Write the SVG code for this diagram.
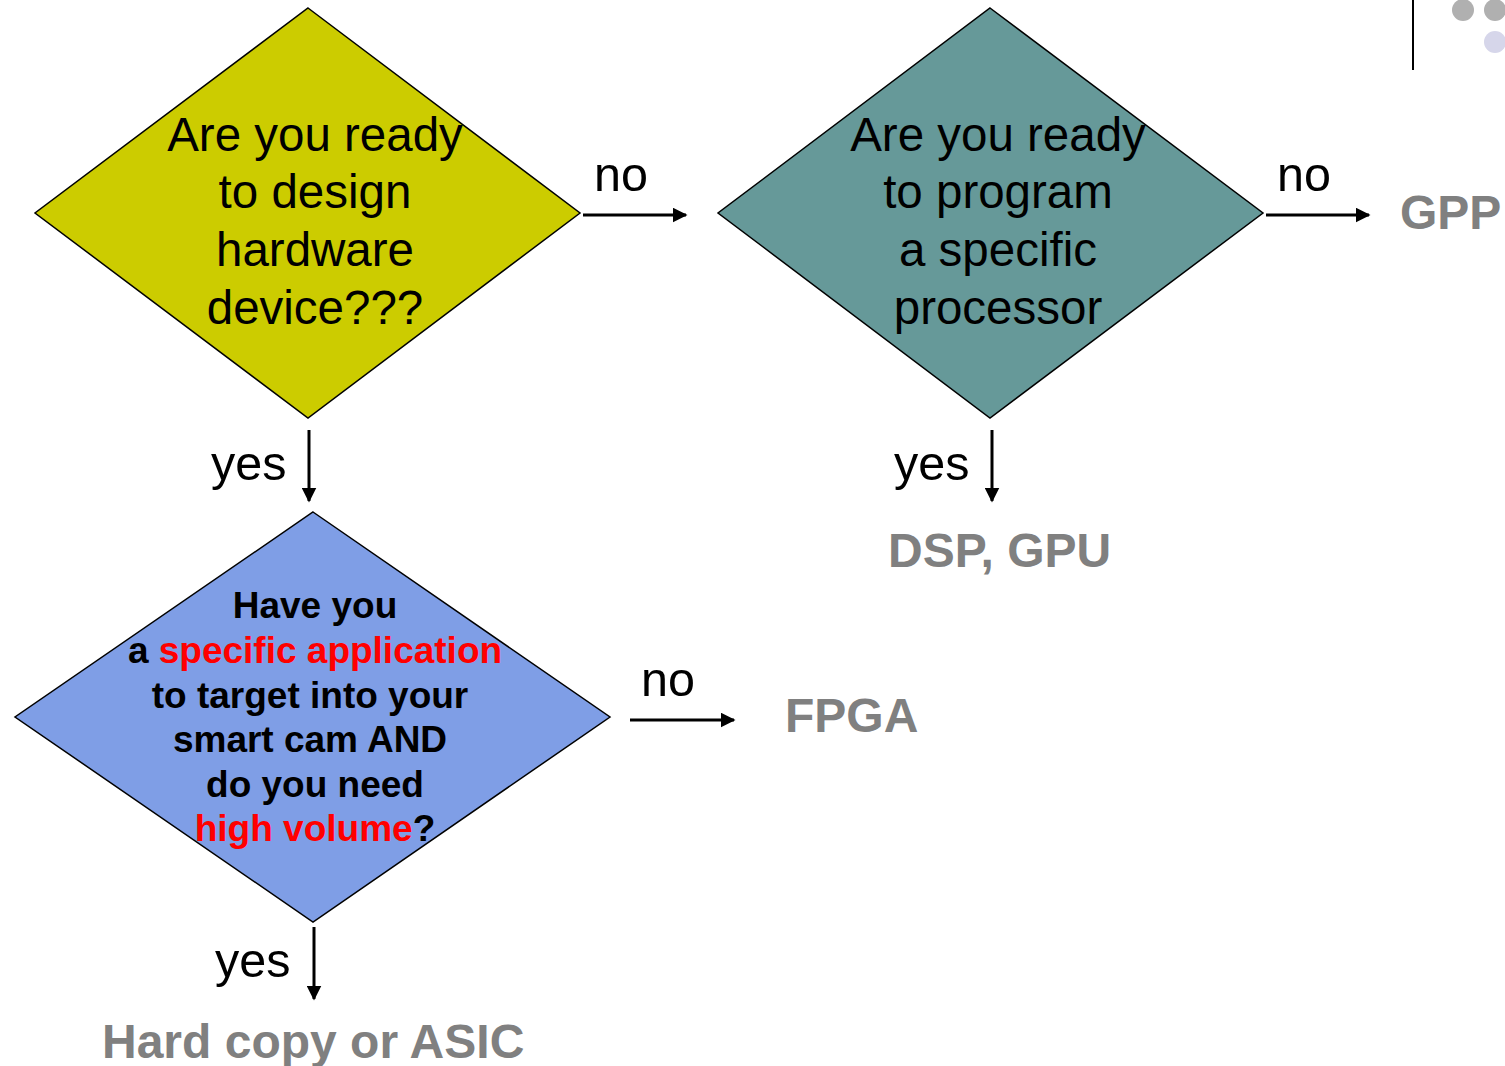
<svg xmlns="http://www.w3.org/2000/svg" width="1505" height="1066" viewBox="0 0 1505 1066">
<style>
.q{font-family:"Liberation Sans",Arial,sans-serif;font-size:47.5px;fill:#000;text-anchor:middle}
.qb{font-family:"Liberation Sans",Arial,sans-serif;font-size:37px;font-weight:bold;fill:#000;text-anchor:middle}
.lbl{font-family:"Liberation Sans",Arial,sans-serif;font-size:48.5px;fill:#000}
.res{font-family:"Liberation Sans",Arial,sans-serif;font-size:48px;font-weight:bold;fill:#808080}
.red{fill:#FF0000}
.d{stroke:#000;stroke-width:1.5}
.c{stroke:#000;stroke-width:3;fill:none;marker-end:url(#ah)}
</style>
<defs>
<marker id="ah" viewBox="0 0 10 10" refX="9" refY="5" markerWidth="5" markerHeight="5" orient="auto" markerUnits="strokeWidth">
<path d="M0,0 L10,5 L0,10 z" fill="#000"/>
</marker>
</defs>
<rect width="1505" height="1066" fill="#fff"/>
<g id="decor">
<line x1="1413" y1="0" x2="1413" y2="70" stroke="#000" stroke-width="2"/>
<circle cx="1463" cy="10" r="11" fill="#B0B0B0"/>
<circle cx="1495" cy="10" r="11" fill="#B0B0B0"/>
<circle cx="1495" cy="42" r="11" fill="#D6D6EA"/>
</g>
<g id="node-design">
<polygon class="d" points="308,8 580,213 308,418 35,213" fill="#CCCC00"/>
<text class="q" x="315" y="151">Are you ready</text>
<text class="q" x="315" y="208">to design</text>
<text class="q" x="315" y="266">hardware</text>
<text class="q" x="315" y="324">device???</text>
</g>
<g id="node-program">
<polygon class="d" points="990,8 1263,213 990,418 718,213" fill="#669999"/>
<text class="q" x="998" y="151">Are you ready</text>
<text class="q" x="998" y="208">to program</text>
<text class="q" x="998" y="266">a specific</text>
<text class="q" x="998" y="324">processor</text>
</g>
<g id="node-volume">
<polygon class="d" points="313,512 610,717 313,922 15,717" fill="#7F9EE6"/>
<text class="qb" x="315" y="618">Have you</text>
<text class="qb" x="315" y="663">a <tspan class="red">specific application</tspan></text>
<text class="qb" x="310" y="708">to target into your</text>
<text class="qb" x="310" y="752">smart cam AND</text>
<text class="qb" x="315" y="797">do you need</text>
<text class="qb" x="315" y="841"><tspan class="red">high volume</tspan>?</text>
</g>
<g id="node-gpp"><text class="res" x="1400" y="229">GPP</text></g>
<g id="node-dsp"><text class="res" x="888" y="567">DSP, GPU</text></g>
<g id="node-fpga"><text class="res" x="785" y="732">FPGA</text></g>
<g id="node-asic"><text class="res" x="102" y="1058">Hard copy or ASIC</text></g>
<g id="connectors">
<line class="c" x1="583" y1="215" x2="686" y2="215"/>
<line class="c" x1="1266" y1="215" x2="1369" y2="215"/>
<line class="c" x1="309" y1="430" x2="309" y2="501"/>
<line class="c" x1="992" y1="430" x2="992" y2="501"/>
<line class="c" x1="630" y1="720" x2="734" y2="720"/>
<line class="c" x1="314" y1="927" x2="314" y2="999"/>
<text class="lbl" x="594" y="191">no</text>
<text class="lbl" x="1277" y="191">no</text>
<text class="lbl" x="641" y="696">no</text>
<text class="lbl" x="211" y="480">yes</text>
<text class="lbl" x="894" y="480">yes</text>
<text class="lbl" x="215" y="977">yes</text>
</g>
</svg>
